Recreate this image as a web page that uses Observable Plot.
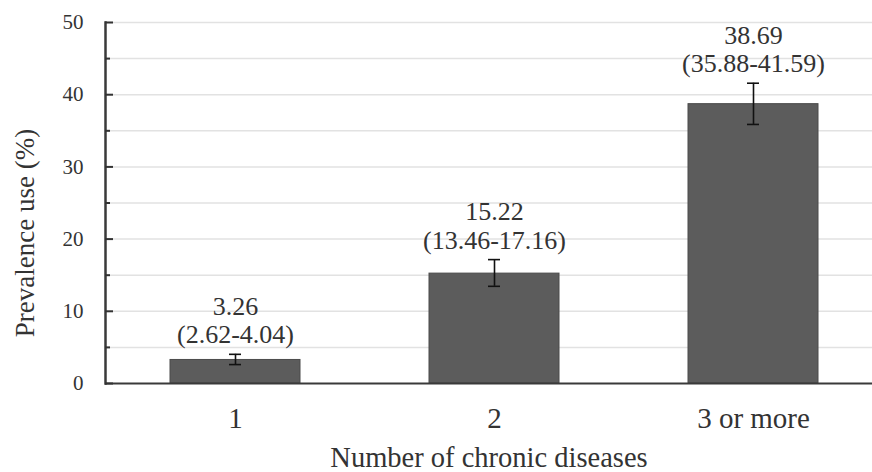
<!DOCTYPE html>
<html>
<head>
<meta charset="utf-8">
<script src="https://cdn.jsdelivr.net/npm/d3@7"></script>
<script src="https://cdn.jsdelivr.net/npm/@observablehq/plot@0.6"></script>
<style>
  html, body { margin: 0; padding: 0; background: #fff; }
  #chart svg { display: block; }
</style>
</head>
<body>
<div id="chart"></div>
<script>
const categories = ["1", "2", "3 or more"];
const values = [3.26, 15.22, 38.69];
const lower = [2.62, 13.46, 35.88];
const upper = [4.04, 17.16, 41.59];
const majorTicks = [0, 10, 20, 30, 40, 50];
const minorTicks = [5, 15, 25, 35, 45];
const gridLines = [5, 10, 15, 20, 25, 30, 35, 40, 45, 50];

const data = categories.map((c, i) => ({
  cat: c, value: values[i], lo: lower[i], hi: upper[i],
  label: `${values[i].toFixed(2)}\n(${lower[i].toFixed(2)}-${upper[i].toFixed(2)})`
}));

const font = "'Liberation Serif', 'Times New Roman', serif";

const chart = Plot.plot({
  width: 872,
  height: 472,
  marginTop: 22,
  marginBottom: 89,
  marginLeft: 105,
  marginRight: 0,
  style: { fontFamily: font, background: "#fff", color: "#333" },
  x: { domain: categories, range: [105, 882], paddingInner: 0.5, paddingOuter: 0.25, label: null },
  y: { domain: [0, 50], label: null },
  marks: [
    Plot.ruleY(gridLines, { stroke: "#e2e2e2", strokeWidth: 1.5 }),
    Plot.barY(data, { x: "cat", y: "value", fill: "#5c5c5c", stroke: "#4a4a4a", strokeWidth: 1 }),
    Plot.ruleX(data, { x: "cat", y1: "lo", y2: "hi", stroke: "#111", strokeWidth: 1.6 }),
    Plot.tickY(data, { x: "cat", y: "lo", stroke: "#111", strokeWidth: 1.6, insetLeft: 59, insetRight: 59 }),
    Plot.tickY(data, { x: "cat", y: "hi", stroke: "#111", strokeWidth: 1.6, insetLeft: 59, insetRight: 59 }),
    Plot.text(data, {
      x: "cat", y: "hi", text: "label", lineAnchor: "bottom", dy: -11,
      fontSize: 26, lineHeight: 1.1, fill: "#333", fontFamily: font
    }),
    Plot.ruleY([0], { stroke: "#3a3a3a", strokeWidth: 2 }),
    Plot.frame({ anchor: "left", stroke: "#3a3a3a", strokeWidth: 2.5 }),
    Plot.axisY(majorTicks, { tickSize: 8, dx: 8, text: null, stroke: "#333", strokeWidth: 2 }),
    Plot.axisY(minorTicks, { tickSize: 5, dx: 5, text: null, stroke: "#333", strokeWidth: 2 }),
    Plot.axisY(majorTicks, { tickSize: 0, tickPadding: 22, fontSize: 21, fill: "#333", label: null, fontFamily: font }),
    Plot.axisX({ tickSize: 0, tickPadding: 24, fontSize: 29, fill: "#333", label: null, fontFamily: font }),
    Plot.text(["Number of chronic diseases"], {
      frameAnchor: "bottom", lineAnchor: "bottom", dy: 83, fontSize: 28.5, fill: "#333", fontFamily: font
    }),
    Plot.text(["Prevalence use (%)"], {
      frameAnchor: "left", rotate: -90, textAnchor: "middle", lineAnchor: "middle",
      dx: -80, dy: 30, fontSize: 27, fill: "#333", fontFamily: font
    })
  ]
});
document.getElementById("chart").appendChild(chart);
</script>
</body>
</html>
